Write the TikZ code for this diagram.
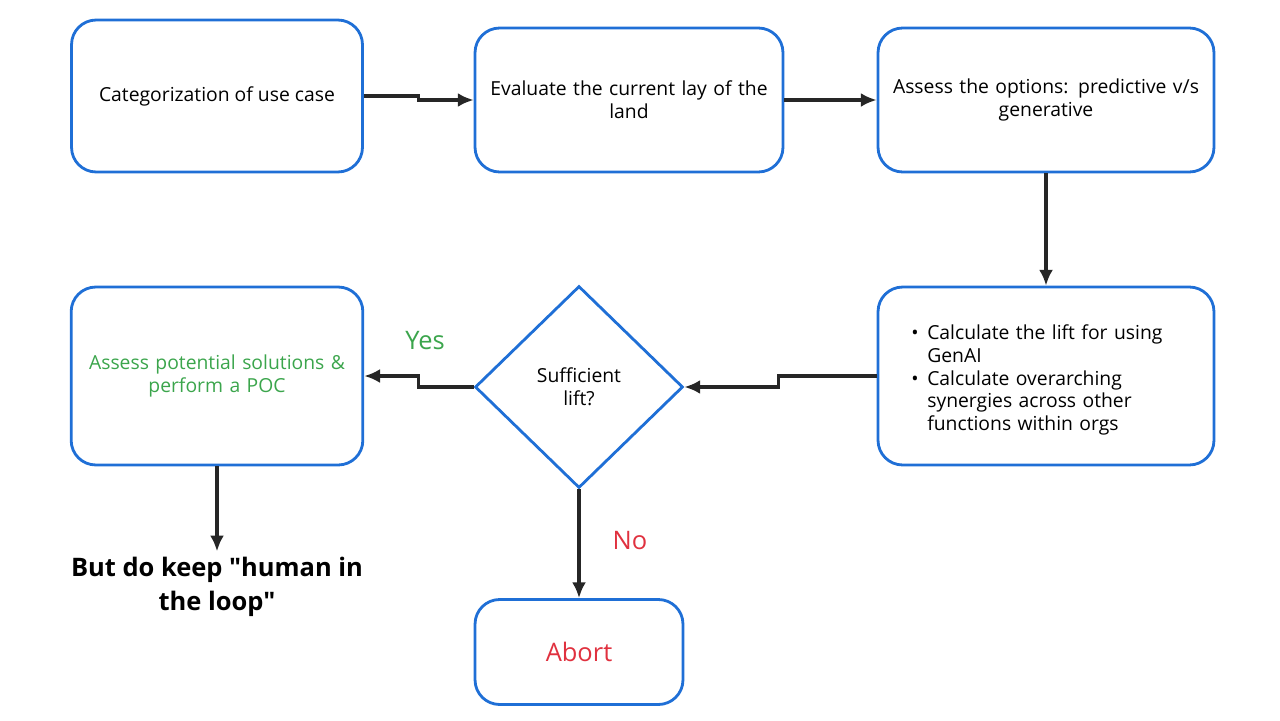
\documentclass[tikz,border=0pt]{standalone}
\usepackage{fontspec}
\setmainfont{Open Sans}
\newfontfamily\plainfont{Open Sans}
\usepackage{enumitem}
\usetikzlibrary{shapes.geometric}
\usetikzlibrary{arrows.meta}
\definecolor{boxblue}{HTML}{1F6FD6}
\definecolor{yesgreen}{HTML}{3BA54C}
\definecolor{nored}{HTML}{E0313F}
\hyphenpenalty=10000
\exhyphenpenalty=10000
\tikzset{
    stepbox/.style={draw=boxblue, line width=1.6pt, rounded corners=14pt, align=center, font=\fontsize{11}{13}\selectfont},
    decide/.style={draw=boxblue, line width=1.6pt, diamond, align=center, font=\fontsize{11}{13}\selectfont, inner sep=0pt},
    flow/.style={-{Latex[length=9pt,width=8pt]}, line width=1.8pt, black!85}
}
\begin{document}
\begin{tikzpicture}[x=0.02cm, y=-0.02cm]
    \useasboundingbox (0,0) rectangle (1280,720);

    \node[stepbox, minimum width=5.82cm, minimum height=3.04cm] (cat) at (217,96) {Categorization of use case};
    \node[stepbox, minimum width=6.16cm, minimum height=2.88cm, text width=5.6cm] (eval) at (629,100) {Evaluate the current lay of the\\land};
    \node[stepbox, minimum width=6.72cm, minimum height=2.88cm, text width=6.4cm] (assess) at (1046,100) {Assess the options: predictive v/s\\generative};
    \node[stepbox, minimum width=6.72cm, minimum height=3.56cm, text width=5.6cm, align=left] (lift) at (1046,376) {%
        \begin{itemize}[leftmargin=1.1em, nosep, label=\textbullet]
            \item Calculate the lift for using\\GenAI
            \item Calculate overarching\\synergies across other\\functions within orgs
        \end{itemize}};
    \node[decide, minimum width=4.16cm, minimum height=4.04cm] (suff) at (579,387) {Sufficient\\lift?};
    \node[stepbox, minimum width=5.82cm, minimum height=3.56cm, text width=5.6cm, text=yesgreen] (poc) at (217,376) {Assess potential solutions \&\\perform a POC};
    \node[stepbox, minimum width=4.16cm, minimum height=2.1cm, text=nored, font=\fontsize{14.5}{17}\selectfont] (abort) at (579,652) {Abort};
    \node[align=center, font=\plainfont\fontsize{14.5}{19}\selectfont\bfseries] (loop) at (217,587) {But do keep "human in\\the loop"};

    \draw[flow] (cat.east) -- ++(55,0) |- (eval.west);
    \draw[flow] (eval.east) -- (assess.west);
    \draw[flow] (assess.south) -- (lift.north);
    \draw[flow] (lift.west) -- ++(-98,0) |- (suff.east);
    \draw[flow] (suff.west) -- ++(-55,0) |- (poc.east);
    \draw[flow] (suff.south) -- (abort.north);
    \draw[flow] (poc.south) -- (loop.north);

    \node[text=yesgreen, font=\fontsize{14.5}{17}\selectfont] (yes) at (425,341) {Yes};
    \node[text=nored, font=\fontsize{14.5}{17}\selectfont] (no) at (630,541) {No};
\end{tikzpicture}
\end{document}
